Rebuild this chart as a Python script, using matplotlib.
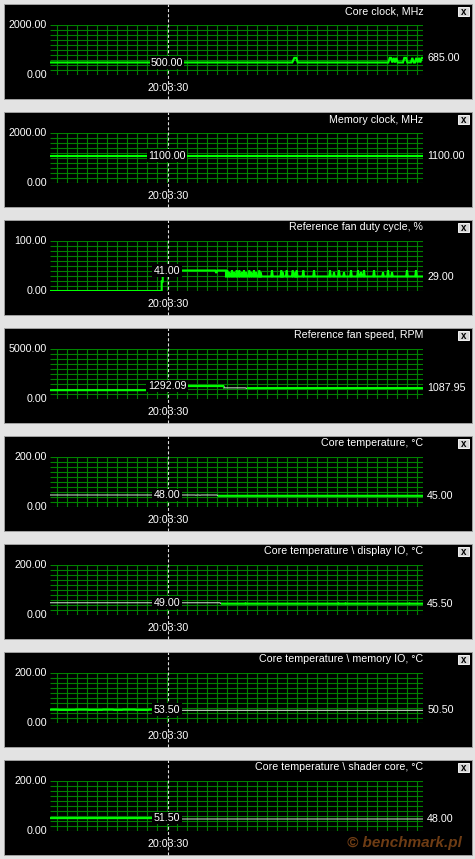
import numpy as np
import matplotlib
matplotlib.use('Agg')
import matplotlib.pyplot as plt
from matplotlib.patches import Rectangle

plt.rcParams['font.family'] = ['Liberation Sans', 'DejaVu Sans']
plt.rcParams['lines.scale_dashes'] = False

#------texts and scales of the eight monitor panels
titles = ['Core clock, MHz', 'Memory clock, MHz', 'Reference fan duty cycle, %',
          'Reference fan speed, RPM', 'Core temperature, \u00b0C',
          'Core temperature \\ display IO, \u00b0C',
          'Core temperature \\ memory IO, \u00b0C',
          'Core temperature \\ shader core, \u00b0C']
ymax = [2000, 2000, 100, 5000, 200, 200, 200, 200]
cursor_vals = [500.00, 1100.00, 41.00, 1292.09, 48.00, 49.00, 53.50, 51.50]
last_vals = [685.00, 1100.00, 29.00, 1087.95, 45.00, 45.50, 50.50, 48.00]
cursor_time = '20:03:30'

#------series (time in samples from the left edge of the graph)
core_clock_t = [0, 242.3, 244.3, 246.3, 247.7, 338.3, 339.7, 341, 342.3, 343.7, 345, 346.3, 347.7,
                353, 354.3, 356, 357.3, 361, 362.3, 363.7, 365, 366.3, 367.7, 369, 370.3, 371.7, 373.3]
core_clock_v = [500, 500, 685, 685, 500, 500, 685, 685, 500, 685, 500, 685, 500,
                500, 685, 685, 500, 500, 685, 500, 500, 685, 500, 685, 500, 685, 685]

mem_clock_t = [0, 373.3]
mem_clock_v = [1100, 1100]

fan_duty_t = [0, 111.7, 111.7, 112.7, 112.7, 113.7, 113.7, 165.3, 166.3, 167.3, 176, 176]
fan_duty_v = [0, 0, 19, 19, 30, 30, 41, 41, 36, 41, 41, 29]
fan_duty_base = 29
fan_spike_t = [177.3, 179.3, 182, 184, 186.7, 189.3, 192, 194, 196, 199.3, 201.3, 204, 206, 209.3,
               210.7, 222, 231.3, 232.7, 236.7, 242.7, 245.3, 246.7, 253.3, 264, 280, 284, 289,
               294, 301, 308, 311, 314, 324, 333, 338, 342, 357, 366]
fan_spike_v = [41, 37, 41, 37, 41, 41, 37, 41, 37, 41, 37, 41, 37, 41,
               37, 41, 41, 37, 41, 41, 37, 41, 41, 41, 41, 37, 41,
               37, 41, 41, 37, 41, 41, 37, 41, 37, 41, 41]

fan_speed_t = [0, 110, 110, 174, 174, 195.5, 196.3, 197, 373.3]
fan_speed_v = [880, 880, 1292.09, 1292.09, 1115, 1115, 1060, 1087.95, 1087.95]

core_temp_t = [0, 145, 146, 147, 149, 150, 151, 167, 168, 373.3]
core_temp_v = [48, 48, 47, 48, 48, 47, 48, 48, 45, 45]

display_io_t = [0, 170, 171, 195, 195.5, 196, 288, 288.5, 289, 295, 295.5, 296, 359, 359.5, 360, 373.3]
display_io_v = [49, 49, 45.5, 45.5, 47, 45.5, 45.5, 47, 45.5, 45.5, 47, 45.5, 45.5, 47, 45.5, 45.5]

mem_io_t = [0, 8, 9, 25, 26, 38, 39, 52, 53, 63, 64, 72, 73, 85, 86, 98, 99, 112, 113, 373.3]
mem_io_v = [53.5, 53.5, 52.5, 52.5, 53.5, 53.5, 52.5, 52.5, 53.5, 53.5, 52.5, 52.5, 53.5, 53.5,
            52.5, 52.5, 53.5, 53.5, 50.5, 50.5]

shader_t = [0, 115, 116, 373.3]
shader_v = [51.5, 51.5, 48, 48]

#------fan duty: peaks sit on the 29 % base line
fd_t = list(fan_duty_t)
fd_v = list(fan_duty_v)
for t, v in zip(fan_spike_t, fan_spike_v):
    fd_t += [t - 0.8, t, t + 0.8]
    fd_v += [fan_duty_base, v, fan_duty_base]
fd_t += [373.3]
fd_v += [fan_duty_base]

series = [(core_clock_t, core_clock_v), (mem_clock_t, mem_clock_v), (fd_t, fd_v),
          (fan_speed_t, fan_speed_v), (core_temp_t, core_temp_v),
          (display_io_t, display_io_v), (mem_io_t, mem_io_v), (shader_t, shader_v)]

# stretches of the trace that look washed out in the screenshot
pale_spans = [None, None, None, (174, 197), (0, 168), (0, 170.5), (115, 373.3), (116, 373.3)]

#------layout in pixels
W, H = 475, 859
GX0, GX1 = 50, 423.3
TMAX = GX1 - GX0
CURSOR_T = 118.3
GRID = '#008200'
TRACE = '#00ff00'
PALE = '#bcd6bc'
FS = 7.7

fig = plt.figure(figsize=(W / 100, H / 100), dpi=100, facecolor='#e3e3e3')


def fx(x):
    return x / W


def fy(y):
    return 1 - y / H


for i in range(8):
    y0 = 4 + 108 * i
    # black panel
    fig.patches.append(Rectangle((fx(4), fy(y0 + 95.3)), fx(468), 95.3 / H,
                                 transform=fig.transFigure, facecolor='black',
                                 edgecolor='#a0a0a0', lw=0.7, zorder=-10))
    # close button
    fig.patches.append(Rectangle((fx(458), fy(y0 + 11.8)), fx(11), 8.6 / H,
                                 transform=fig.transFigure, facecolor='#d6d6d6',
                                 edgecolor='#f4f4f4', lw=0.7, zorder=5))
    fig.text(fx(463.5), fy(y0 + 7.6), 'x', color='black', fontsize=7, weight='bold',
             ha='center', va='center', zorder=6)

    ax = fig.add_axes([fx(GX0), fy(y0 + 71), (GX1 - GX0) / W, 50 / H])
    ax.set_facecolor('none')
    ax.set_xlim(0, TMAX)
    ax.set_ylim(0, ymax[i])
    for s in ax.spines.values():
        s.set_visible(False)
    ax.set_xticks([])
    ax.set_yticks([])

    ax.hlines(np.linspace(0, ymax[i], 11), 0, TMAX, color=GRID, lw=0.8, zorder=1)
    ax.vlines(np.arange(7.3, TMAX, 10), 0, ymax[i], color=GRID, lw=0.8, zorder=1)

    t, v = series[i]
    span = pale_spans[i]
    if span is None:
        ax.plot(t, v, color=TRACE, lw=1.5, zorder=2, solid_joinstyle='miter')
    else:
        ax.plot(t, v, color=PALE, lw=0.8, zorder=2)
        bright = [(0, span[0]), (span[1], TMAX)]
        for a, b in bright:
            if b - a <= 0:
                continue
            ln, = ax.plot(t, v, color=TRACE, lw=1.5, zorder=3)
            ln.set_clip_path(Rectangle((a, -ymax[i]), b - a, 3 * ymax[i], transform=ax.transData))

    # cursor line and labels
    ax.axvline(CURSOR_T, ymin=-0.486, ymax=1.42, color='#dcdcdc', lw=0.8,
               ls=(0, (2.2, 1.5)), clip_on=False, zorder=4)
    ax.text(CURSOR_T - 1.3, cursor_vals[i], '%.2f' % cursor_vals[i], color='white', fontsize=FS,
            ha='center', va='center', zorder=5, clip_on=False,
            bbox=dict(boxstyle='square,pad=0.12', fc='black', ec='none'))
    ax.text(CURSOR_T, -0.266, cursor_time, transform=ax.get_xaxis_transform(), color='white',
            fontsize=FS, ha='center', va='center', zorder=5, clip_on=False)
    ax.text(TMAX + 4, last_vals[i], '%.2f' % last_vals[i], color='white', fontsize=FS,
            ha='left', va='center', clip_on=False)
    ax.text(-3, ymax[i], '%.2f' % ymax[i], color='white', fontsize=FS,
            ha='right', va='center', clip_on=False)
    ax.text(-3, 0, '0.00', color='white', fontsize=FS, ha='right', va='center', clip_on=False)
    ax.text(TMAX, 1.27, titles[i], transform=ax.get_xaxis_transform(), color='white', fontsize=FS,
            ha='right', va='center', clip_on=False)

fig.text(fx(347), fy(843.3), '\u00a9 benchmark.pl', color='#6e3c14', fontsize=11,
         weight='bold', style='italic', ha='left', va='center', zorder=7)

fig.savefig('out.png', dpi=100, facecolor=fig.get_facecolor())
